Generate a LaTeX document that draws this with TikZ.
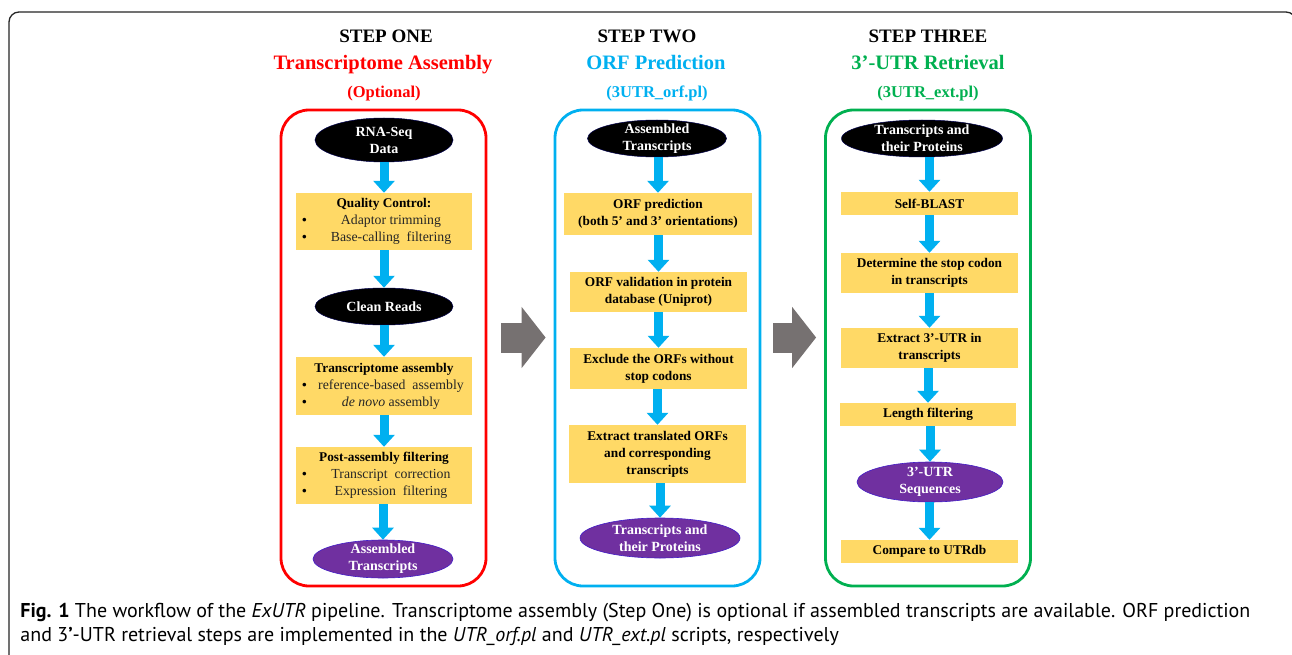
\documentclass[tikz,border=0pt]{standalone}
\usepackage{fontspec}
\setmainfont{Liberation Serif}
\newfontfamily\capfont{PT Sans}
\usetikzlibrary{shapes.geometric,arrows.meta}
\definecolor{ybox}{HTML}{FFD966}
\definecolor{sky}{HTML}{00B0F0}
\definecolor{grn}{HTML}{00B050}
\definecolor{purp}{HTML}{7030A0}
\definecolor{garrow}{HTML}{767171}
\definecolor{txtdark}{HTML}{262626}
\newsavebox\capboxa
\newsavebox\capboxb
\newlength\capwid
\newcommand\bulline[1]{\makebox[176pt]{\rlap{\hspace{6pt}\textbullet}\hfill\hspace{14pt}\mdseries\fontsize{13.8}{17}\selectfont\color{txtdark}#1\hfill}}
\begin{document}
\sbox\capboxa{\capfont\textbf{Fig. 1} The workflow of the \textit{ExUTR} pipeline. Transcriptome assembly (Step One) is optional if assembled transcripts are available. ORF prediction}%
\sbox\capboxb{\capfont and 3\textbf{’}-UTR retrieval steps are implemented in the \textit{UTR\_orf.pl} and \textit{UTR\_ext.pl} scripts, respectively}%
\setlength\capwid{\wd\capboxa}%
\begin{tikzpicture}[x=1pt,y=-1pt,
  panel/.style={rounded corners=28pt, line width=2.8pt, inner sep=0pt, minimum width=205pt, minimum height=476pt},
  ybx/.style={fill=ybox, inner sep=0pt, align=center, font=\fontsize{13.3}{17}\selectfont\bfseries},
  blackell/.style={ellipse, fill=black, draw=black!70!blue, line width=0.5pt, text=white, inner xsep=0pt, inner ysep=-5pt, align=center, font=\fontsize{14}{17}\selectfont\bfseries},
  purpell/.style={ellipse, fill=purp, draw=purp!60!blue, line width=0.6pt, text=white, inner xsep=0pt, inner ysep=-5pt, align=center, font=\fontsize{14}{17}\selectfont\bfseries},
  steptitle/.style={anchor=base, inner sep=0pt, font=\fontsize{19}{22}\selectfont\bfseries},
  maintitle/.style={anchor=base, inner sep=0pt, font=\fontsize{20.5}{24}\selectfont\bfseries},
  subtitle/.style={anchor=base, inner sep=0pt, font=\fontsize{16.5}{20}\selectfont\bfseries},
  bluearrow/.style={draw=sky, line width=9pt, -{Triangle[width=21pt,length=12pt]}},
  grayarrow/.style={draw=garrow, line width=30pt, -{Triangle[width=60pt,length=24pt]}}
]
\useasboundingbox (0,0) rectangle (1292,655);
\fill[white] (0,0) rectangle (1292,655);
\draw[line width=1.3pt, draw=black!85, rounded corners=10pt] (9,670) -- (9,12) -- (1296,12) -- (1296,80);

% headers
\node[steptitle] (h1a) at (386,43) {STEP ONE};
\node[maintitle, text=red] (h1b) at (383,70) {Transcriptome Assembly};
\node[subtitle, text=red] (h1c) at (384,98) {(Optional)};
\node[steptitle] (h2a) at (647,43) {STEP TWO};
\node[maintitle, text=sky] (h2b) at (656,70) {ORF Prediction};
\node[subtitle, text=sky] (h2c) at (657,98) {(3UTR\_orf.pl)};
\node[steptitle] (h3a) at (928,43) {STEP THREE};
\node[maintitle, text=grn] (h3b) at (928,70) {3’-UTR Retrieval};
\node[subtitle, text=grn] (h3c) at (928,98) {(3UTR\_ext.pl)};

% panels
\node[panel, draw=red] (p1) at (383.5,348) {};
\node[panel, draw=sky] (p2) at (657.5,348) {};
\node[panel, draw=grn] (p3) at (928,348) {};

% step one
\node[blackell, minimum width=138pt, minimum height=44pt] (e1) at (384,140) {RNA-Seq\\Data};
\node[ybx, minimum width=176pt, minimum height=57pt] (qc) at (384,221.5) {Quality Control:\\\bulline{Adaptor trimming}\\\bulline{Base-calling\ \ filtering}};
\node[blackell, minimum width=138pt, minimum height=37pt] (cl) at (384,306.5) {Clean Reads};
\node[ybx, minimum width=176pt, minimum height=58pt] (ta) at (384,386) {Transcriptome assembly\\\bulline{reference-based\ \ assembly}\\\bulline{\textit{de novo} assembly}};
\node[ybx, minimum width=176pt, minimum height=57pt] (pa) at (384,475.5) {Post-assembly filtering\\\bulline{Transcript\ \ correction}\\\bulline{Expression\ \ filtering}};
\node[purpell, minimum width=140pt, minimum height=38pt] (a1) at (383,559) {Assembled\\Transcripts};

% step two
\node[blackell, minimum width=139pt, minimum height=37pt] (e2) at (657,138.5) {Assembled\\Transcripts};
\node[ybx, minimum width=188pt, minimum height=42pt] (orf) at (658,214) {ORF prediction\\(both 5’ and 3’ orientations)};
\node[ybx, minimum width=177pt, minimum height=40pt] (val) at (658.5,292) {ORF validation in protein\\database (Uniprot)};
\node[ybx, minimum width=177pt, minimum height=41pt] (exc) at (658.5,368.5) {Exclude the ORFs without\\stop codons};
\node[ybx, minimum width=177pt, minimum height=58pt] (ext) at (657.5,454) {Extract translated ORFs\\and corresponding\\transcripts};
\node[purpell, minimum width=160pt, minimum height=40pt] (tp2) at (660,538) {Transcripts and\\their Proteins};

% step three
\node[blackell, minimum width=161pt, minimum height=37pt] (e3) at (922,138.5) {Transcripts and\\their Proteins};
\node[ybx, minimum width=177pt, minimum height=23pt] (sb) at (929.5,203.5) {Self-BLAST};
\node[ybx, minimum width=177pt, minimum height=40pt] (det) at (929.5,273) {Determine the stop codon\\in transcripts};
\node[ybx, minimum width=177pt, minimum height=40pt] (ex3) at (929.5,348) {Extract 3’-UTR in\\transcripts};
\node[ybx, minimum width=176pt, minimum height=23pt] (len) at (928,414.5) {Length filtering};
\node[purpell, minimum width=146pt, minimum height=40pt] (seq) at (930,482) {3’-UTR\\Sequences};
\node[ybx, minimum width=177pt, minimum height=23pt] (cmp) at (929.5,551.5) {Compare to UTRdb};

% blue arrows
\foreach \a/\b in {e1/qc, qc/cl, cl/ta, ta/pa, pa/a1, e2/orf, orf/val, val/exc, exc/ext, ext/tp2, e3/sb, sb/det, det/ex3, ex3/len, len/seq, seq/cmp}
  \draw[bluearrow] (\a.south -| \b.north) -- (\b.north);

% gray arrows between panels
\draw[grayarrow] ([shift={(14,-10.5)}]p1.east) -- ([shift={(-8,-10.5)}]p2.west);
\draw[grayarrow] ([shift={(12,-10.5)}]p2.east) -- ([shift={(-8,-10.5)}]p3.west);

% caption
\pgfmathsetmacro\capscale{1230/\capwid}
\node[anchor=base west, inner sep=0pt, scale=\capscale, text=black!85] (cap1) at (20,617) {\usebox\capboxa};
\node[anchor=base west, inner sep=0pt, scale=\capscale, text=black!85] (cap2) at (20,641) {\usebox\capboxb};
\end{tikzpicture}
\end{document}
